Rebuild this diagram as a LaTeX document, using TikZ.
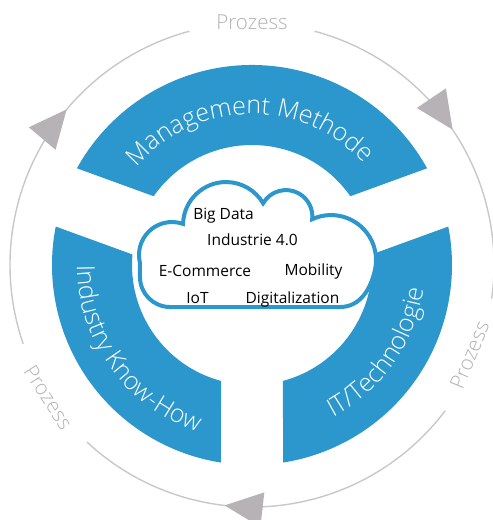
\documentclass[tikz,border=0pt]{standalone}
\usepackage{fontspec}
\setmainfont{Open Sans}
\newfontfamily\thinfont{Open Sans Light}
\usetikzlibrary{decorations.text}
\definecolor{segblue}{RGB}{43,151,204}
\definecolor{loopgray}{RGB}{200,200,200}
\definecolor{tipgray}{RGB}{182,178,182}
\definecolor{labelgray}{RGB}{178,178,178}
\newcommand\ringfont{\thinfont\fontsize{25}{25}\selectfont}

\begin{document}
\begin{tikzpicture}[
    x=1pt, y=1pt,
    cloudtext/.style={anchor=base, inner sep=0pt, font=\fontsize{15.5}{15.5}\selectfont},
    prozess/.style={labelgray, inner sep=0pt, font=\thinfont\fontsize{20.5}{20.5}\selectfont},
    ringtext/.style={decorate, decoration={text along path, text align=center,
        text={|\color{white}\ringfont|#1}}},
]
    \useasboundingbox (-252,-255) rectangle (241,265);
    \foreach \s/\e in {105/199,227/323,352/435}
      \draw[loopgray, line width=1.4] (\s:242) arc[start angle=\s, end angle=\e, radius=242];
    \foreach \t in {140,34,263.5}
      \fill[tipgray, rotate=\t] (242,0) -- (224.5,38) -- (259.5,38) -- cycle;
    \node[prozess] (prozesstop) at (90:243) {Prozess};
    \node[prozess, rotate=-57] (prozessleft) at (213:243) {Prozess};
    \node[prozess, rotate=67.5] (prozessright) at (-22.5:235.5) {Prozess};

    \foreach \a/\b in {20/160,160/270,270/380}
      \fill[segblue] ({\a+8.92}:200) arc[start angle=\a+8.92, end angle=\b-8.92, radius=200]
        -- ({\b-14.97}:120) arc[start angle=\b-14.97, end angle=\a+14.97, radius=120] -- cycle;
    \path[ringtext=Management Methode] (161:151) arc[start angle=161, end angle=21, radius=151];
    \path[ringtext=Industry Know-How] (166:175) arc[start angle=166, end angle=266, radius=175];
    \path[ringtext=IT/Technologie] (-85:173) arc[start angle=-85, end angle=15, radius=173];

    \draw[segblue, line width=4, fill=white] (0,-42) -- (-82,-42)
      arc[start angle=270, end angle=180, radius=30] -- (-112,2)
      arc[start angle=194, end angle=70.5, radius=33]
      arc[start angle=178.5, end angle=30.4, radius=43]
      arc[start angle=150, end angle=-5.9, radius=26.4]
      arc[start angle=114.7, end angle=-12, radius=45]
      to[out=-102, in=0] (88,-42) -- cycle;
    \node[cloudtext] (bigdata) at (-28.5,45.7) {Big Data};
    \node[cloudtext] (industrie) at (0.5,20) {Industrie 4.0};
    \node[cloudtext] (ecommerce) at (-47,-11) {E-Commerce};
    \node[cloudtext] (mobility) at (61.5,-10) {Mobility};
    \node[cloudtext] (iot) at (-54.5,-38) {IoT};
    \node[cloudtext] (digital) at (40.5,-38) {Digitalization};
\end{tikzpicture}
\end{document}
